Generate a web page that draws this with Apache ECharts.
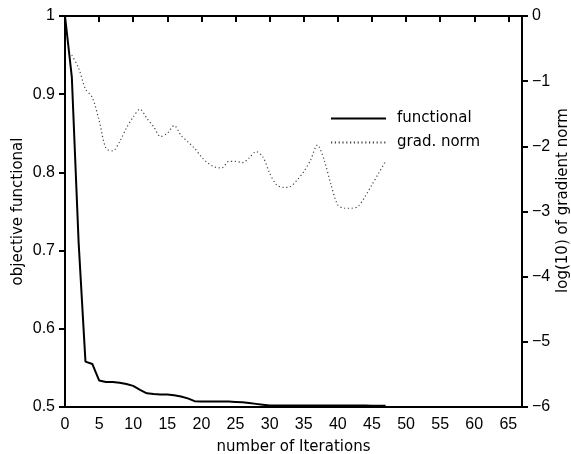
<!DOCTYPE html>
<html>
<head>
<meta charset="utf-8">
<script src="https://cdn.jsdelivr.net/npm/echarts@6/dist/echarts.min.js"></script>
<style>html,body{margin:0;padding:0;background:#fff}#c{width:571px;height:454px}</style>
</head>
<body>
<div id="c"></div>
<script>
// functional values, iterations 0..47
const functional = [1.0, 0.922, 0.71, 0.558, 0.555, 0.534, 0.532, 0.532, 0.531, 0.5295,
  0.527, 0.522, 0.5175, 0.5165, 0.516, 0.516, 0.515, 0.5135, 0.511, 0.5075,
  0.507, 0.507, 0.507, 0.507, 0.507, 0.5065, 0.506, 0.505, 0.504, 0.503,
  0.502, 0.502, 0.502, 0.502, 0.502, 0.502, 0.502, 0.502, 0.502, 0.502,
  0.502, 0.502, 0.502, 0.502, 0.5018, 0.5016, 0.5015, 0.5015];
// log10 gradient norm, iterations 1..47
const gradStart = 1;
const gradNorm = [-0.6, -0.8, -1.12, -1.25, -1.6, -2.03, -2.07, -1.93, -1.72, -1.55,
  -1.43, -1.57, -1.7, -1.85, -1.8, -1.68, -1.83, -1.93, -2.03, -2.16,
  -2.26, -2.32, -2.33, -2.23, -2.23, -2.25, -2.18, -2.08, -2.16, -2.41,
  -2.59, -2.63, -2.62, -2.52, -2.39, -2.21, -1.98, -2.21, -2.59, -2.9,
  -2.95, -2.95, -2.92, -2.77, -2.59, -2.41, -2.23];
const xTicks = [0, 5, 10, 15, 20, 25, 30, 35, 40, 45, 50, 55, 60, 65];
const seriesNames = ['functional', 'grad. norm'];

const funcData = functional.map((v, i) => [i, v]);
const gradData = gradNorm.map((v, i) => [i + gradStart, v]);

const tickFont = { fontFamily: 'Liberation Sans', fontSize: 16, color: '#000' };
const nameFont = { fontFamily: 'DejaVu Sans', fontSize: 15, color: '#000' };
const axisLine = { show: true, lineStyle: { color: '#000', width: 2 } };
const axisTick = { show: true, inside: false, length: 6, lineStyle: { color: '#000', width: 2 } };

const chart = echarts.init(document.getElementById('c'), null, { renderer: 'canvas' });
chart.setOption({
  animation: false,
  backgroundColor: '#fff',
  grid: { left: 65, right: 49, top: 16, bottom: 47, outerBoundsMode: 'none', containLabel: false,
    show: true, borderColor: '#000', borderWidth: 2, backgroundColor: 'transparent' },
  legend: {
    orient: 'vertical', left: 325, top: 106, itemWidth: 55, itemHeight: 14, itemGap: 9,
    data: seriesNames,
    itemStyle: { opacity: 0 },
    textStyle: { fontFamily: 'DejaVu Sans', fontSize: 15, color: '#000', padding: [0, 0, 0, 6] }
  },
  xAxis: {
    type: 'value', min: 0, max: 67,
    name: 'number of Iterations', nameLocation: 'middle', nameGap: 33, nameMoveOverlap: false,
    nameTextStyle: nameFont,
    axisLine: axisLine,
    axisTick: Object.assign({ customValues: xTicks }, axisTick),
    axisLabel: Object.assign({ customValues: xTicks, margin: 10 }, tickFont),
    splitLine: { show: false }
  },
  yAxis: [{
    type: 'value', min: 0.5, max: 1, interval: 0.1, position: 'left',
    name: 'objective functional', nameLocation: 'middle', nameGap: 39, nameMoveOverlap: false,
    nameTextStyle: nameFont,
    axisLine: axisLine, axisTick: axisTick,
    axisLabel: Object.assign({ margin: 10 }, tickFont),
    splitLine: { show: false }
  }, {
    type: 'value', min: -6, max: 0, interval: 1, position: 'right',
    name: 'log(10) of gradient norm', nameLocation: 'middle', nameGap: 34, nameMoveOverlap: false,
    nameTextStyle: Object.assign({ padding: [0, 0, 0, 22] }, nameFont),
    axisLine: axisLine, axisTick: axisTick,
    axisLabel: Object.assign({ margin: 10, formatter: v => String(v).replace('-', '\u2212') }, tickFont),
    splitLine: { show: false }
  }],
  series: [{
    name: seriesNames[0], type: 'line', yAxisIndex: 0, data: funcData,
    symbol: 'none', showSymbol: false,
    lineStyle: { color: '#000', width: 2 }, itemStyle: { color: '#000' }
  }, {
    name: seriesNames[1], type: 'line', yAxisIndex: 1, data: gradData,
    symbol: 'none', showSymbol: false, smooth: 0.3,
    lineStyle: { color: '#444', width: 1.2, type: [1.2, 2.6] }, itemStyle: { color: '#444' }
  }]
});
</script>
</body>
</html>
